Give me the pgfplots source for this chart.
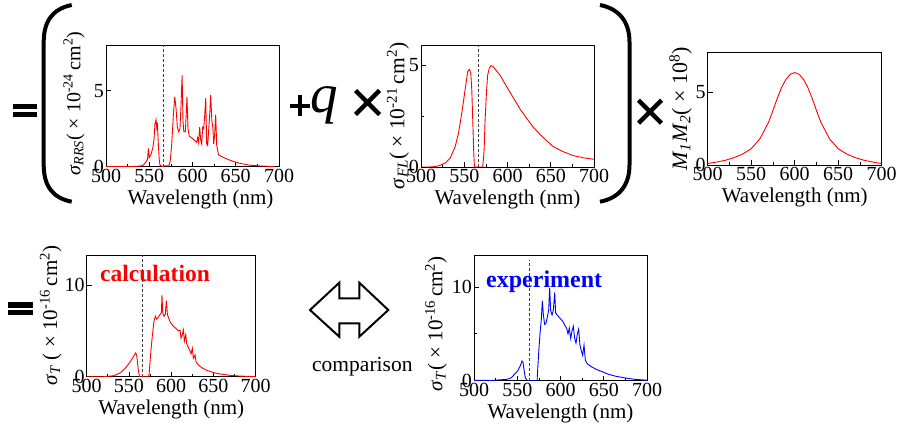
\documentclass[border=0pt]{standalone}
\usepackage{fontspec}
\setmainfont{Liberation Serif}
\usepackage{pgfplots}
\pgfplotsset{compat=1.18}

\newcommand\fs[1]{\fontsize{#1}{#1}\selectfont}

\pgfplotsset{
  panel/.style={
    scale only axis, anchor=south west,
    xmin=500, xmax=700, ymin=0,
    xtick={500,550,...,700}, minor xtick={525,575,625,675},
    tick align=inside, major tick length=5pt, minor tick length=3pt,
    tick style={black, line width=0.7pt},
    axis line style={line width=0.8pt},
    xtick pos=bottom, ytick pos=left,
    /pgf/number format/assume math mode=true,
    tick label style={font=\fs{20}},
    xticklabel style={inner sep=2pt},
    yticklabel style={inner sep=2pt},
    xlabel={Wavelength (nm)},
    xlabel style={font=\fs{21}, at={(axis description cs:0.5,0)}, anchor=north, yshift=-23pt, inner sep=0pt},
    % the label is rotated: yshift moves it left, xshift moves it up
    ylabel style={font=\fs{21}, at={(axis description cs:0,0.5)}, anchor=center, inner sep=0pt},
  },
  spec/.style={red, line width=0.9pt},
  laser/.style={densely dashed, black!75, line width=0.7pt},
}

\begin{document}
\begin{tikzpicture}
\path[use as bounding box] (0,0) rectangle (903pt,437pt);

% sigma_RRS
\begin{axis}[panel, at={(106pt,270.3pt)}, width=173pt, height=121.7pt,
  ymax=8, ytick={0,5},
  xlabel style={xshift=8pt},
  ylabel={\textit{σ}\textsubscript{\textit{RRS}}( × 10\textsuperscript{-24}\,cm\textsuperscript{2})},
  ylabel style={font=\fs{20}, yshift=32pt, xshift=2pt}]
\addplot[laser] coordinates {(566.5,0) (566.5,8)};
\addplot[spec] coordinates {
(500,0) (520,0) (535,0.02) (540,0.05) (543,0.1) (546,0.3) (548,0.5) (549,1.2) (550,0.6)
(552,0.8) (554,1.2) (555.5,1.8) (556.6,2.8) (557.8,3.1) (558.6,2.6) (559.3,2.9) (560.5,1.5)
(561.5,0.5) (562.4,0.1) (564,0.05) (566,0.02) (568,0.05) (570,0.05) (572,0.05) (573,0.1)
(574,0.3) (575,0.8) (576,1.5) (577,2.5) (578,3.5) (579.5,4.6) (581,3.8) (582.5,2.6) (584,2.3)
(585.5,2.5) (586.7,4.0) (588,6.0) (589,3.0) (590,2.3) (591.7,2.3) (592.8,3.5) (593.6,4.6)
(594.8,2.5) (596.3,2.0) (599,1.9) (601,1.8) (603,1.7) (604.8,1.6) (606,1.9) (607,1.6)
(608.3,2.6) (609.4,1.8) (610.6,1.5) (611.8,2.6) (613,2.5) (614,3.3) (615.3,4.5) (616.4,1.5)
(617.5,1.4) (618.8,2.5) (620,3.5) (621,4.7) (622.4,3.0) (623.5,2.6) (624.5,1.5) (625.6,2.1)
(626.8,3.4) (628,1.4) (630,0.8) (634,0.65) (640,0.5) (647,0.35) (655,0.22) (666,0.1)
(678,0.05) (690,0.02) (695,0)
};
\end{axis}

% sigma_FL
\begin{axis}[panel, at={(421pt,270pt)}, width=173pt, height=122pt,
  ymax=6, ytick={0,5}, minor ytick={2.5},
  ylabel={\textit{σ}\textsubscript{\textit{FL}}( × 10\textsuperscript{-21}\,cm\textsuperscript{2})},
  ylabel style={font=\fs{21.5}, yshift=23pt, xshift=-10pt}]
\addplot[laser] coordinates {(566,0) (566,6)};
\addplot[spec] coordinates {
(500,0) (510,0) (516,0.02) (522,0.08) (528,0.2) (533.8,0.44) (537,0.75) (539.5,1.0)
(543.4,1.67) (547.2,2.66) (551,3.8) (554,4.7) (556,4.8) (557.6,4.6) (558.7,3.8) (559.9,2.2)
(561,0.7) (561.8,0) (571.4,0) (573,0.85) (574,2.2) (575.6,3.6) (577,4.5) (579,4.87) (581,4.98)
(583,4.95) (585.6,4.82) (591.6,4.5) (599,3.95) (606.8,3.4) (614.5,2.85) (622,2.4) (630,1.95)
(637.6,1.6) (645,1.3) (653,1.0) (664.6,0.75) (676,0.56) (688,0.45) (700,0.38)
};
\end{axis}

% M1 M2
\begin{axis}[panel, at={(707.7pt,272pt)}, width=174pt, height=112.3pt,
  ymax=7.73, ytick={0,5},
  ylabel={\textit{M}\textsubscript{\textit{1}}\textit{M}\textsubscript{\textit{2}}( × 10\textsuperscript{8})},
  ylabel style={font=\fs{22}, yshift=27pt}]
\addplot[spec] coordinates {
(500,0.1) (510,0.2) (520,0.32) (530,0.5) (540,0.75) (550,1.12) (560,1.8) (570,2.95) (575,3.75)
(580,4.6) (585,5.35) (590,5.9) (595,6.25) (600,6.36) (605,6.25) (610,5.9) (615,5.35) (620,4.6)
(625,3.75) (630,2.95) (640,1.8) (650,1.12) (660,0.75) (670,0.5) (680,0.32) (690,0.2) (700,0.1)
};
\end{axis}

% sigma_T calculation
\begin{axis}[panel, at={(86.7pt,60.3pt)}, width=169pt, height=121.7pt,
  ymax=13.3, ytick={0,10},
  ylabel={\textit{σ}\textsubscript{\textit{T}} ( × 10\textsuperscript{-16}\,cm\textsuperscript{2})},
  ylabel style={yshift=36pt}]
\addplot[laser] coordinates {(565.5,0) (565.5,13.3)};
\addplot[spec] coordinates {
(500,0) (520,0) (531.6,0.1) (539.5,0.4) (545.4,0.9) (551.3,1.6) (555.2,2.2) (558,2.6)
(559.2,2.3) (561,0.8) (562.3,0.1) (563,0) (573,0) (573.8,0.2) (575.7,2.5) (577.7,4.5)
(579.7,6.1) (581.3,6.6) (582.8,6.3) (584.8,6.5) (586.8,6.8) (588.4,7.0) (589.1,8.9) (590,7.0)
(591.5,6.6) (593,6.8) (594.3,8.3) (595.5,6.8) (598.6,6.0) (602.6,5.5) (606.5,5.2) (608.5,5.0)
(610.5,5.1) (611.6,4.2) (613.2,4.6) (614.4,5.1) (615.6,3.9) (617.2,4.6) (618.3,3.6) (620.3,3.2)
(622.3,2.8) (623.5,2.5) (625,3.1) (626.2,2.0) (628.2,2.4) (629.4,1.6) (632,1.3) (636,1.0)
(642,0.7) (650,0.45) (657.8,0.3) (669.6,0.15) (681.4,0.07) (693.3,0.02) (700,0)
};
\end{axis}

% sigma_T experiment
\begin{axis}[panel, at={(474pt,56.3pt)}, width=173pt, height=125.7pt,
  ymax=13.4, ytick={0,10}, minor ytick={5},
  ylabel={\textit{σ}\textsubscript{\textit{T}}( × 10\textsuperscript{-16}\,cm\textsuperscript{2})},
  ylabel style={yshift=38pt, xshift=-6pt}]
\addplot[laser] coordinates {(563.5,0) (563.5,12.9)};
\addplot[blue, line width=0.9pt] coordinates {
(500,0.03) (510,0.05) (520,0.02) (525,0.06) (531.6,0.1) (538,0.15) (543,0.3) (547,0.7)
(549,0.9) (550.9,1.1) (553.6,1.6) (555.5,2.1) (556.6,2.0) (557.8,1.2) (559.3,0.3) (560.9,0.1)
(562,0) (573,0) (573.2,0.5) (574.8,3.0) (576.3,5.0) (577.8,6.5) (579,8.5) (580.2,7.0)
(581.7,6.0) (583.2,6.1) (584.8,6.8) (586.3,7.5) (587.5,9.9) (588.6,7.5) (590.2,7.0) (591.7,7.5)
(593.3,9.4) (594.4,7.2) (596.3,7.0) (599,6.7) (602.9,6.3) (605.6,5.8) (607,5.6) (608.7,5.0)
(610.2,5.6) (611.8,4.5) (613.3,5.3) (614.8,5.8) (616.4,4.5) (617.9,4.0) (619.5,5.0) (621,5.5)
(622.5,3.8) (624,3.2) (625.6,2.7) (627.2,3.8) (628.7,2.2) (631,1.8) (635.6,1.5) (641.4,1.2)
(647.2,1.0) (655,0.7) (662.6,0.5) (674.2,0.3) (685.7,0.15) (700,0.05)
};
\end{axis}

% equation symbols
\fill (13pt,327.7pt) rectangle (37pt,333pt);
\fill (13pt,319.7pt) rectangle (37pt,325.3pt);
\fill (8.3pt,128.7pt) rectangle (33.3pt,135.3pt);
\fill (8.3pt,122pt) rectangle (33.3pt,127pt);
\draw[line width=4pt] (71.7pt,432pt) .. controls (52pt,428pt) and (43.7pt,415pt) .. (43.7pt,395pt)
  -- (43.7pt,272pt) .. controls (43.7pt,252pt) and (52pt,239pt) .. (71.7pt,235.3pt);
\draw[line width=4pt] (600pt,432pt) .. controls (619.5pt,428pt) and (629.5pt,415pt) .. (629.5pt,395pt)
  -- (629.5pt,272pt) .. controls (629.5pt,252pt) and (619.5pt,239pt) .. (600pt,235.3pt);
\draw[line width=4pt] (289.5pt,331pt) -- (310pt,331pt) (299.7pt,320.5pt) -- (299.7pt,341.5pt);
\node[anchor=base west, inner sep=0pt, font=\fs{55}] at (310pt,324pt) {\textit{q}};
\draw[line width=4.5pt] (355.5pt,322.5pt) -- (379.5pt,346.5pt) (355.5pt,346.5pt) -- (379.5pt,322.5pt);
\draw[line width=4.5pt] (638.5pt,313.8pt) -- (661.5pt,336.8pt) (638.5pt,336.8pt) -- (661.5pt,313.8pt);
\draw[line width=2pt, line join=miter] (310pt,127pt) -- (339.3pt,154.3pt) -- (339.3pt,138.7pt)
  -- (359.3pt,138.7pt) -- (359.3pt,154.3pt) -- (388.3pt,127pt) -- (359.3pt,100.3pt)
  -- (359.3pt,113.7pt) -- (339.3pt,113.7pt) -- (339.3pt,100.3pt) -- cycle;
\node[anchor=base west, inner sep=0pt, font=\fs{21.5}] at (312pt,65.3pt) {comparison};
\node[anchor=base west, inner sep=0pt, font=\fs{23.5}\bfseries, text=red] at (100pt,155.3pt) {calculation};
\node[anchor=base west, inner sep=0pt, font=\fs{24}\bfseries, text=blue] at (486pt,149.3pt) {experiment};
\end{tikzpicture}
\end{document}
